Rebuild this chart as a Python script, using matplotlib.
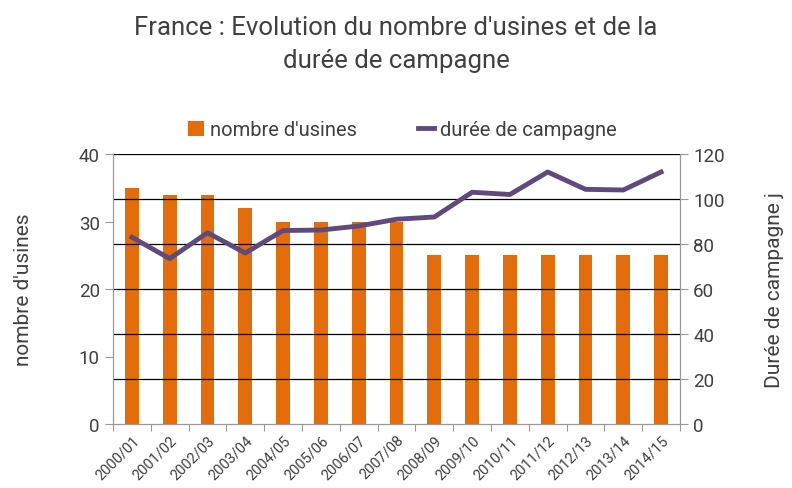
import matplotlib
matplotlib.use("Agg")
import matplotlib.pyplot as plt
import numpy as np

categories = ["2000/01", "2001/02", "2002/03", "2003/04", "2004/05", "2005/06", "2006/07",
              "2007/08", "2008/09", "2009/10", "2010/11", "2011/12", "2012/13", "2013/14", "2014/15"]
usines = [35, 34, 34, 32, 30, 30, 30, 30, 25, 25, 25, 25, 25, 25, 25]
duree = [83, 73.5, 85, 76, 86, 86.2, 88, 91, 92, 103, 102, 112, 104.3, 104, 112]

plt.rcParams['font.family'] = ['Roboto', 'DejaVu Sans']
txt = '#404040'

fig = plt.figure(figsize=(7.92, 4.89), dpi=100)
ax = fig.add_axes([113/792, 1-425/489, (680-113)/792, (425-155)/489])
ax2 = ax.twinx()

x = np.arange(len(categories))
ax.bar(x, usines, width=0.36, color='#E46C0A', zorder=3, label="nombre d'usines")
ax2.plot(x, duree, color='#604A7B', lw=3.5, zorder=4, label='durée de campagne')

ax.set_xlim(-0.5, len(categories) - 0.5)
ax.set_ylim(0, 40)
ax2.set_ylim(0, 120)
ax.set_yticks([0, 10, 20, 30, 40])
ax2.set_yticks([0, 20, 40, 60, 80, 100, 120])
for v in [20, 40, 60, 80, 100, 120]:
    ax2.axhline(v, color='black', lw=0.9, zorder=1)
ax.patch.set_visible(False)

ax.set_xticks(np.arange(-0.5, len(categories), 1.0), minor=False)
ax.set_xticklabels([])
ax.set_xticks(x, minor=True)
ax.set_xticklabels(categories, minor=True, rotation=45, ha='right', rotation_mode='anchor',
                   fontsize=10.5, color=txt)
ax.tick_params(axis='x', which='minor', length=0, pad=6)
ax.tick_params(axis='x', which='major', length=5, color='#999999')

for a in (ax, ax2):
    a.spines['top'].set_visible(False)
    for s in ['left', 'right', 'bottom']:
        a.spines[s].set_color('#999999')
ax.tick_params(axis='y', labelsize=13.5, colors=txt, length=6)
ax.tick_params(axis='y', color='#999999')
ax2.tick_params(axis='y', labelsize=13.5, colors=txt, length=6, color='#999999')

ax.set_ylabel("nombre d'usines", fontsize=15, color=txt, labelpad=33)
ax2.set_ylabel("Durée de campagne j", fontsize=15, color=txt, labelpad=29)

fig.text(0.5, 0.968, "France : Evolution du nombre d'usines et de la\ndurée de campagne",
         ha='center', va='top', fontsize=18.5, color=txt, linespacing=1.5)

h1, l1 = ax.get_legend_handles_labels()
h2, l2 = ax2.get_legend_handles_labels()
fig.legend(h1 + h2, l1 + l2, loc='center', bbox_to_anchor=(0.508, 1 - 131/489), ncol=2,
           frameon=False, fontsize=14.5, labelcolor=txt, handlelength=0.8, handleheight=0.8,
           handletextpad=0.3, columnspacing=3.0)
leg = fig.legends[0]
leg.legend_handles[1].set_linewidth(3.5)

fig.savefig('out.png', dpi=100)
